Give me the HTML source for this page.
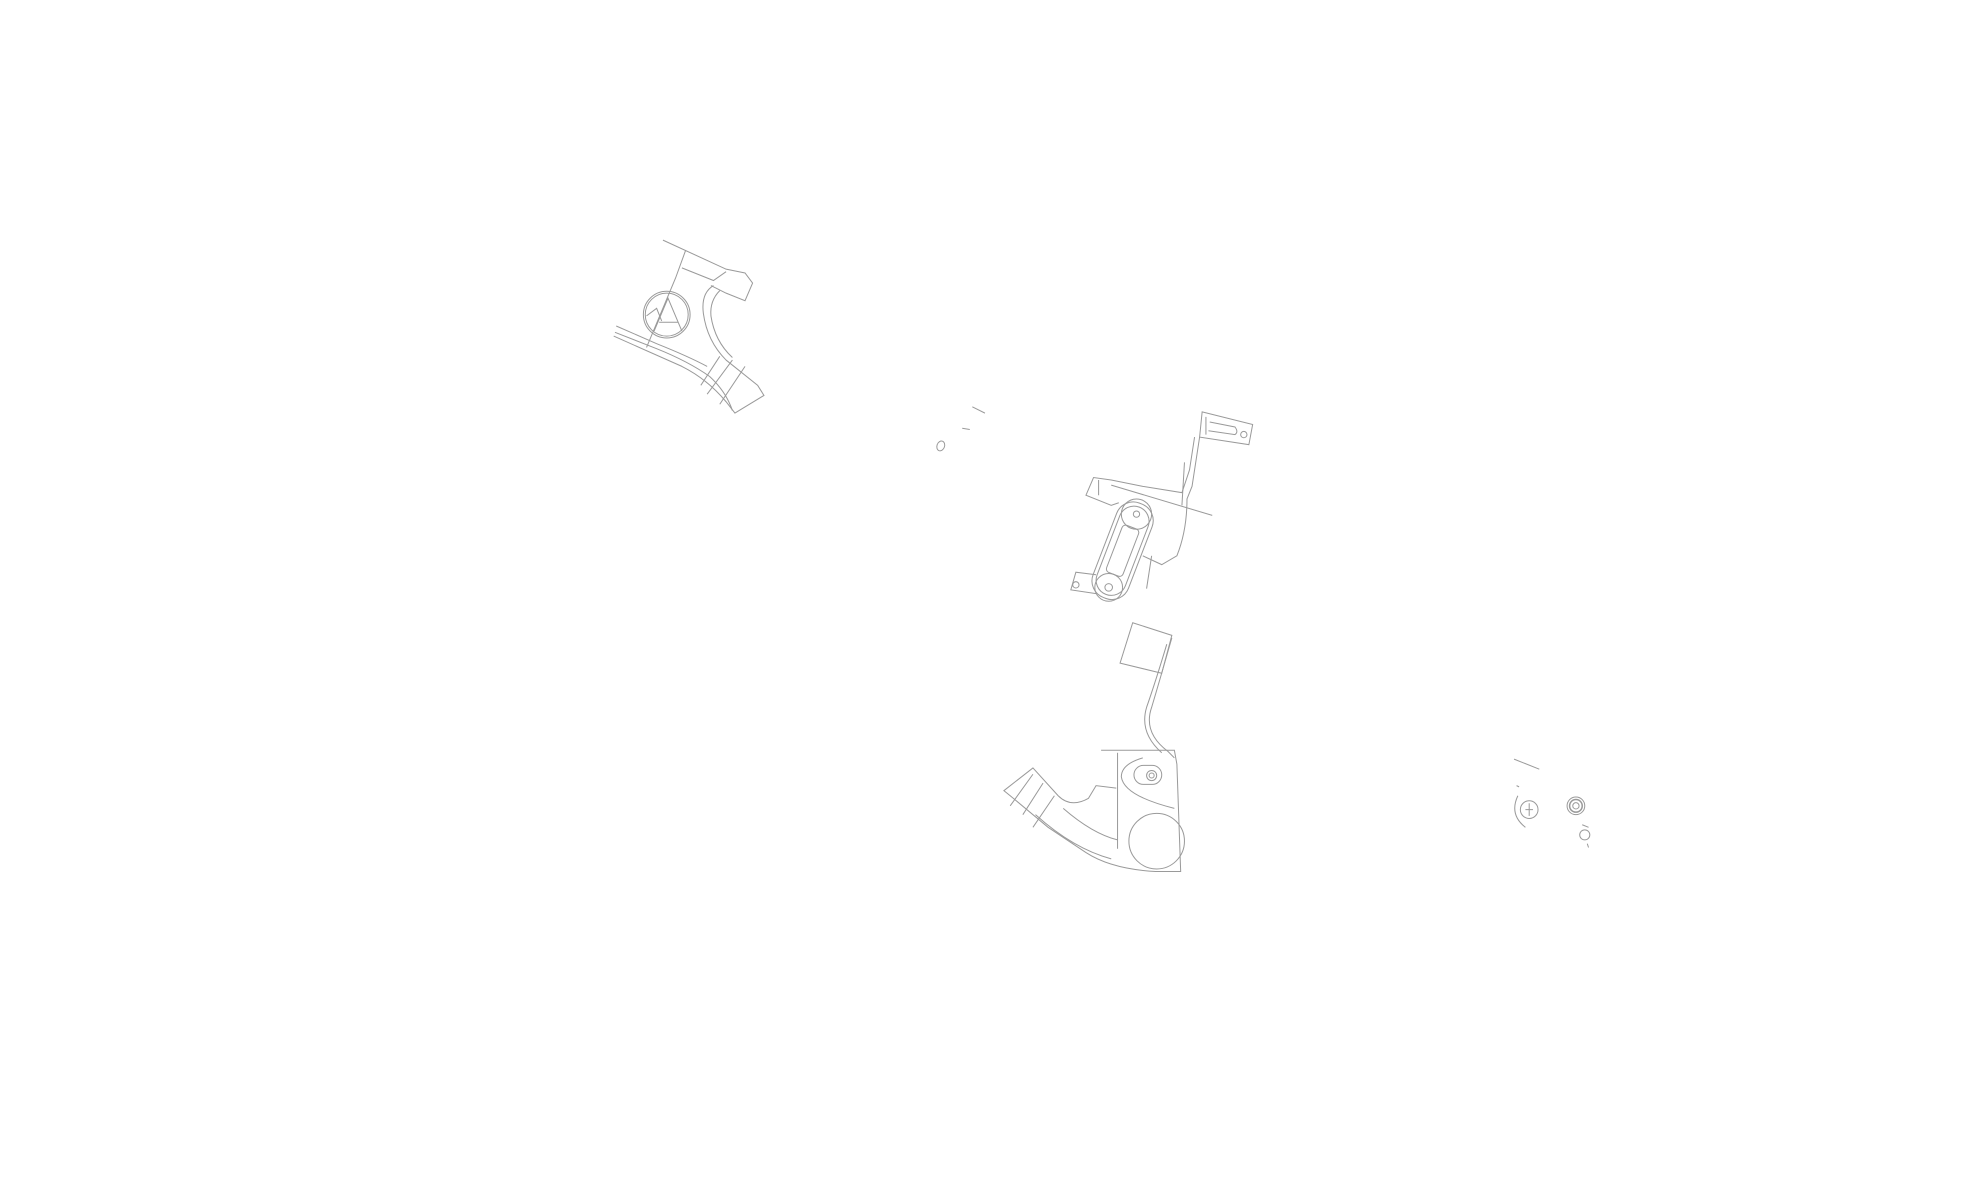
<!DOCTYPE html>
<html><head><meta charset="utf-8"><style>html,body{margin:0;padding:0;background:#fff;width:1980px;height:1200px;overflow:hidden}</style></head>
<body>
<svg width="1980" height="1200" viewBox="0 0 1568 950" xmlns="http://www.w3.org/2000/svg" fill="none" stroke="#9a9a9a" stroke-width="0.8">
<g>
<path d="M525 190 L575 213 L590 216 L596 224 L590 238 L575 232 L563 226"/>
<path d="M543 198 L535 220 L512 275"/>
<path d="M540 212 L565 222 L575 215"/>
<path d="M565 226 Q555 232 557 248 Q560 270 575 285 L600 305 L605 313 L582 327 L575 318 Q560 300 540 290 L486 266"/>
<path d="M570 230 Q562 238 563 250 Q566 270 580 283"/>
<path d="M488 258 L520 272 Q545 282 560 290"/>
<path d="M487 263 L520 276 Q545 286 562 298 Q575 310 580 325"/>
<path d="M570 282 L555 305"/>
<path d="M580 285 L560 312"/>
<path d="M590 290 L570 320"/>
<circle cx="528" cy="249" r="18.5"/>
<circle cx="528" cy="249" r="17"/>
<path d="M518 262 L529 236 L540 262 M522 255 L537 255 M512 250 L520 244 L524 254"/>
</g>
<ellipse cx="745" cy="353" rx="3" ry="4" transform="rotate(20 745 353)"/>
<path d="M770 322 L780 327 M762 339 L768 340"/>
<g>
<path d="M952 326 L992 336 L989 352 L950 346 Z"/>
<path d="M955 330 L955 344 M958 334 L978 338 Q981 342 978 344 L957 341"/>
<circle cx="985" cy="344" r="2.5"/>
<path d="M946 346 L942 372 L936 390 L905 385 L880 380 L866 378 L860 392 L880 400 L886 398"/>
<path d="M950 346 L944 385 L940 395 Q940 420 932 440 L920 447 L905 440"/>
<path d="M870 380 L870 392 M880 384 L960 408"/>
<path d="M938 366 L936 400"/>
<rect x="874" y="396" width="30" height="80" rx="14" transform="rotate(21 889 436)"/>
<rect x="877" y="399" width="24" height="74" rx="12" transform="rotate(21 889 436)"/>
<rect x="882" y="416" width="14" height="40" rx="3" transform="rotate(21 889 436)"/>
<circle cx="900" cy="407" r="12"/><circle cx="900" cy="407" r="2.5"/>
<circle cx="878" cy="465" r="11"/><circle cx="878" cy="465" r="3"/>
<path d="M868 455 L852 453 L848 467 L868 470"/>
<circle cx="852" cy="463" r="2.5"/>
<path d="M912 440 L908 466"/>
</g>
<g>
<path d="M897 493 L928 503 L920 533 L887 525 Z"/>
<path d="M928 505 Q918 540 912 560 Q905 580 925 595 L930 600"/>
<path d="M924 510 Q915 540 908 560 Q902 580 920 596"/>
<path d="M872 594 L930 594 L932 605 L935 690 L915 690 Q880 688 860 675 L830 655 L800 630 L795 626 L818 608 L838 630"/>
<path d="M885 596 L885 672"/>
<path d="M838 630 Q848 640 862 632 L868 622 L884 624"/>
<path d="M818 613 L800 638 M826 620 L810 645 M835 630 L818 655"/>
<path d="M842 640 Q865 660 885 665"/>
<path d="M820 645 Q850 672 880 680"/>
<circle cx="916" cy="666" r="22"/>
<path d="M905 600 Q888 605 888 615 Q890 630 930 640"/>
<rect x="898" y="606" width="22" height="15" rx="7.5"/>
<circle cx="912" cy="614" r="4"/><circle cx="912" cy="614" r="2"/>
</g>
<g>
<path d="M1199 601 L1219 609"/>
<path d="M1201 622 L1203 623"/>
<path d="M1202 630 Q1195 645 1208 655"/>
<circle cx="1211" cy="641" r="7"/><path d="M1211 636 L1211 646 M1208 641 L1214 641"/>
<circle cx="1248" cy="638" r="7"/><circle cx="1248" cy="638" r="5" stroke-width="1.2"/><circle cx="1248" cy="638" r="2.5"/>
<circle cx="1255" cy="661" r="4"/><path d="M1253 653 L1258 655 M1257 668 L1258 671"/>
</g>
</svg>
</body></html>
